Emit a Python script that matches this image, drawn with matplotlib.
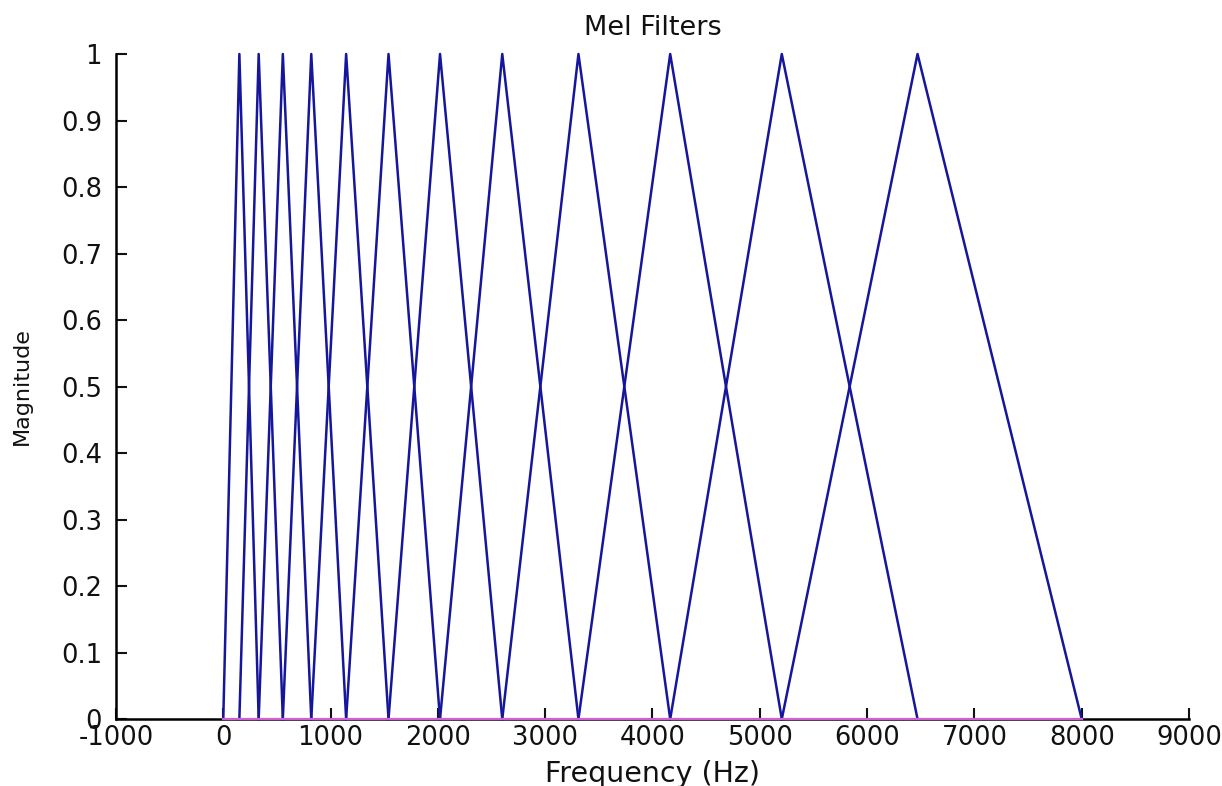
import matplotlib
matplotlib.use("Agg")
import matplotlib.pyplot as plt

# Filter edge / centre frequencies (Hz)
edges_hz = [0, 150, 330, 555, 820, 1145, 1540, 2020, 2600, 3310, 4165, 5205, 6470, 8000]
peak_mag = [1.0] * 12
floor_hz = [0, 8000]
floor_mag = [0, 0]

xticks = [-1000, 0, 1000, 2000, 3000, 4000, 5000, 6000, 7000, 8000, 9000]
yticks = [0, 0.1, 0.2, 0.3, 0.4, 0.5, 0.6, 0.7, 0.8, 0.9, 1]
ytick_labels = ["0", "0.1", "0.2", "0.3", "0.4", "0.5", "0.6", "0.7", "0.8", "0.9", "1"]

plt.rcParams['font.family'] = ['DejaVu Sans']

fig = plt.figure(figsize=(12.22, 7.86), dpi=100)
ax = fig.add_axes([0.0949, 0.0852, 0.973 - 0.0949, 0.9313 - 0.0852])

for i, pk in enumerate(peak_mag):
    xs = [edges_hz[i], edges_hz[i + 1], edges_hz[i + 2]]
    ys = [0, pk, 0]
    ax.plot(xs, ys, color='#16169c', linewidth=1.8, clip_on=False, zorder=3)

ax.plot(floor_hz, floor_mag, color='#d060d0', linewidth=1.6, clip_on=False, zorder=4)

ax.set_xlim(-1000, 9000)
ax.set_ylim(0, 1)
ax.set_xticks(xticks)
ax.set_xticklabels([str(v) for v in xticks])
ax.set_yticks(yticks)
ax.set_yticklabels(ytick_labels)

for s in ['top', 'right']:
    ax.spines[s].set_visible(False)
for s in ['left', 'bottom']:
    ax.spines[s].set_linewidth(1.8)
    ax.spines[s].set_color('black')

ax.tick_params(axis='both', direction='in', length=8, width=1.5, labelsize=18.5, colors='#111111')
ax.tick_params(axis='y', pad=10)
ax.tick_params(axis='x', pad=4)

ax.set_title('Mel Filters', fontsize=19.5, pad=14, color='#111111')
ax.set_xlabel('Frequency (Hz)', fontsize=20.5, labelpad=7, color='#111111')
ax.set_ylabel('Magnitude', fontsize=16, labelpad=21, color='#111111')

fig.savefig('out.png', dpi=100, facecolor='white')
